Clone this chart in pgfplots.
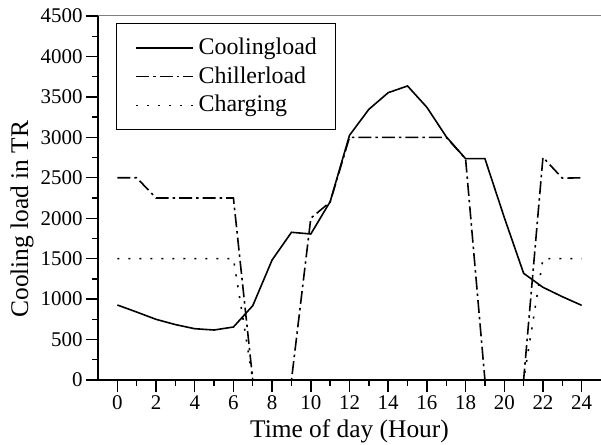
\documentclass[border=0pt]{standalone}
\usepackage{pgfplots}
\pgfplotsset{compat=1.18}
\usepackage{fontspec}
\setmainfont{Liberation Serif}

\pgfplotstableread{
h cool chill charge
0 927 2500 1500
1 840 2500 1500
2 750 2250 1500
3 685 2250 1500
4 634 2250 1500
5 618 2250 1500
6 655 2250 1500
7 919 0 0
8 1484 0 0
9 1826 0 0
10 1805 2000 0
11 2205 2200 0
12 3025 3000 0
13 3346 3000 0
14 3552 3000 0
15 3635 3000 0
16 3371 3000 0
17 3008 3000 0
18 2736 2736 0
19 2736 0 0
20 2010 0 0
21 1319 0 0
22 1146 2753 1500
23 1030 2495 1500
24 923 2500 1500
}\datatab

\begin{document}
\begin{tikzpicture}[x=1bp,y=1bp]
\begin{axis}[name=ax, at={(98bp,65bp)}, anchor=south west,
  width=503bp, height=364bp, scale only axis,
  xmin=-1, xmax=25, ymin=0, ymax=4500,
  axis x line*=bottom, axis y line*=left,
  axis line style={line width=1.5bp, black},
  xtick={0,2,...,24}, minor xtick={1,3,...,23},
  ytick={0,500,...,4500}, minor ytick={250,750,...,4250},
  tick align=outside, major tick length=12bp, minor tick length=6bp,
  every tick/.style={line width=1.4bp, black},
  /pgf/number format/assume math mode=true,
  /pgf/number format/1000 sep={},
  ticklabel style={font=\fontsize{21}{21}\selectfont},
  xlabel={Time of day (Hour)}, ylabel={Cooling load in TR},
  label style={font=\fontsize{25.5}{25.5}\selectfont},
  xlabel style={at={(axis description cs:0.5,-0.1593)}, anchor=base},
  ylabel style={at={(axis description cs:-0.139,0.442)}, anchor=base, rotate=0},
  legend style={at={(axis description cs:0.0358,0.981)}, anchor=north west,
    draw=black, line width=1bp, font=\fontsize{24}{24}\selectfont,
    inner xsep=19bp, inner ysep=12bp, row sep=3.7bp, column sep=4.5bp,
    cells={anchor=west}, nodes={inner sep=0pt, text height=19bp, text depth=6bp}},
  legend image code/.code={\draw[#1] (0bp,0bp) -- (57bp,0bp);},
]
\draw[gray, line width=1bp] (rel axis cs:0,1) -- (rel axis cs:1,1);
\addplot[black, line width=1.6bp] table[x=h, y=cool] {\datatab};
\addlegendentry{Coolingload}
\addplot[black, line width=1.6bp, dash pattern=on 13bp off 4bp on 2.5bp off 4bp] table[x=h, y=chill] {\datatab};
\addlegendentry{Chillerload}
\addplot[black, line width=1.6bp, dash pattern=on 2bp off 9bp] table[x=h, y=charge] {\datatab};
\addlegendentry{Charging}
\end{axis}
\pgfresetboundingbox
\path (0,0) rectangle (601bp,445bp);
\end{tikzpicture}
\end{document}
